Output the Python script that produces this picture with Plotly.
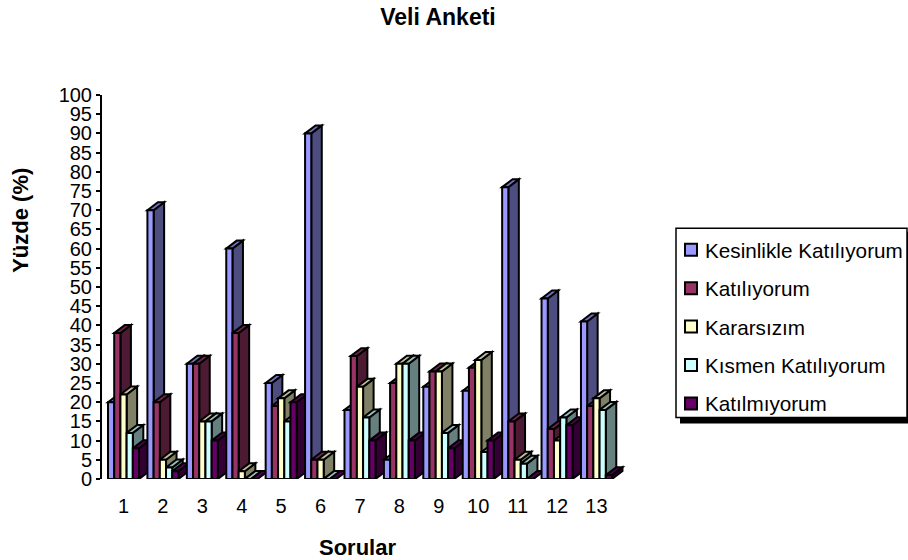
import plotly.graph_objects as go

categories = [str(i) for i in range(1, 14)]
positions = list(range(1, 14))
kesinlikle = [20, 70, 30, 60, 25, 90, 18, 5, 24, 23, 76, 47, 41]
katiliyorum = [38, 20, 30, 38, 19, 5, 32, 25, 28, 29, 15, 13, 19]
kararsizim = [22, 5, 15, 2, 21, 5, 24, 30, 28, 31, 5, 10, 21]
kismen = [12, 3, 15, 0, 15, 0, 16, 30, 12, 7, 4, 16, 18]
katilmiyorum = [8, 2, 10, 0, 20, 0, 10, 10, 8, 10, 0, 14, 1]

series_names = ["Kesinlikle Katılıyorum", "Katılıyorum", "Kararsızım", "Kısmen Katılıyorum", "Katılmıyorum"]
series_values = [kesinlikle, katiliyorum, kararsizim, kismen, katilmiyorum]
front_colors = ["#9999FF", "#993366", "#FFFFCC", "#CCFFFF", "#660066"]
side_colors = ["#4D4D80", "#4D1A33", "#808066", "#668080", "#330033"]
top_colors = ["#7373BF", "#73264D", "#BFBF99", "#99BFBF", "#4D004D"]

W, H = 908, 560
L, R, T, B = 102, 628, 95, 479.5
X_MIN, X_MAX = 0.454, 13.8
BARGAP = 0.213
DEPTH_X = 10.5 * (X_MAX - X_MIN) / (R - L)
DEPTH_Y = 8 * 100 / (B - T)
FONT = "Liberation Sans"
EDGE = 2


def px(x):
    return (x - L) / (R - L)


def py(y):
    return (B - y) / (B - T)


fig = go.Figure()
bar_w = (1 - BARGAP) / len(series_values)
shapes = []
for c_i, pos in enumerate(positions):
    left0 = pos - (1 - BARGAP) / 2
    for s_i, values in enumerate(series_values):
        v = values[c_i]
        xl = left0 + s_i * bar_w
        xr = xl + bar_w
        side = f"M{xr},0 L{xr + DEPTH_X},{DEPTH_Y} L{xr + DEPTH_X},{v + DEPTH_Y} L{xr},{v} Z"
        top = f"M{xl},{v} L{xl + DEPTH_X},{v + DEPTH_Y} L{xr + DEPTH_X},{v + DEPTH_Y} L{xr},{v} Z"
        for path, col in ((side, side_colors[s_i]), (top, top_colors[s_i])):
            shapes.append(dict(type="path", path=path, xref="x", yref="y", layer="below",
                               fillcolor=col, line=dict(color="#000", width=EDGE)))

# legend frame and its shadow
shapes.append(dict(type="rect", xref="paper", yref="paper", layer="below",
                   x0=px(680), x1=px(908), y0=py(424), y1=py(232),
                   fillcolor="#000", line=dict(width=0)))
shapes.append(dict(type="rect", xref="paper", yref="paper", layer="below",
                   x0=px(676), x1=px(907), y0=py(418), y1=py(228.5),
                   fillcolor="#fff", line=dict(color="#000", width=1.5)))

for s_i, name in enumerate(series_names):
    fig.add_trace(go.Bar(
        x=positions, y=series_values[s_i], name=name, legendgroup=name,
        marker=dict(color=front_colors[s_i], line=dict(color="#000", width=EDGE)),
        cliponaxis=False,
    ))

annotations = [
    dict(text="<b>Sorular</b>", xref="paper", yref="paper", x=px(357), y=py(548),
         xanchor="center", yanchor="middle", showarrow=False, font=dict(size=22)),
    dict(text="<b>Yüzde (%)</b>", xref="paper", yref="paper", x=px(21), y=py(221),
         xanchor="center", yanchor="middle", showarrow=False, textangle=-90, font=dict(size=22)),
]

fig.update_layout(
    width=W, height=H,
    margin=dict(l=L, r=W - R, t=T, b=H - B, pad=0, autoexpand=False),
    paper_bgcolor="#fff", plot_bgcolor="rgba(0,0,0,0)",
    barmode="group", bargap=BARGAP, bargroupgap=0,
    font=dict(family=FONT, size=20, color="#000"),
    shapes=shapes,
    annotations=annotations,
    title=dict(text="<b>Veli Anketi</b>", x=438 / W, xanchor="center",
               y=1 - 17 / H, yanchor="middle", yref="container",
               font=dict(family=FONT, size=23)),
    xaxis=dict(range=[X_MIN, X_MAX], tickvals=positions, ticktext=categories,
               showgrid=False, zeroline=False, showline=False, ticks="",
               tickfont=dict(size=20), ticklabelstandoff=13),
    yaxis=dict(range=[0, 100], dtick=5, tick0=0, showgrid=False, zeroline=False,
               showline=True, linecolor="#000", linewidth=2, ticks="outside",
               ticklen=4, tickwidth=2, tickcolor="#000", tickfont=dict(size=20)),
    legend=dict(x=px(665), xanchor="left", y=py(230), yanchor="top",
                bgcolor="rgba(0,0,0,0)", borderwidth=0, traceorder="grouped",
                tracegroupgap=8.5, font=dict(size=20.7, family=FONT)),
)

fig.write_html(
    "out.html", config={"displayModeBar": False},
    post_script=(
        "document.body.style.margin='0';"
        "document.querySelectorAll('.legend .legendpoints path').forEach("
        "p=>p.setAttribute('transform','translate(26,0)'));"
    ),
)
